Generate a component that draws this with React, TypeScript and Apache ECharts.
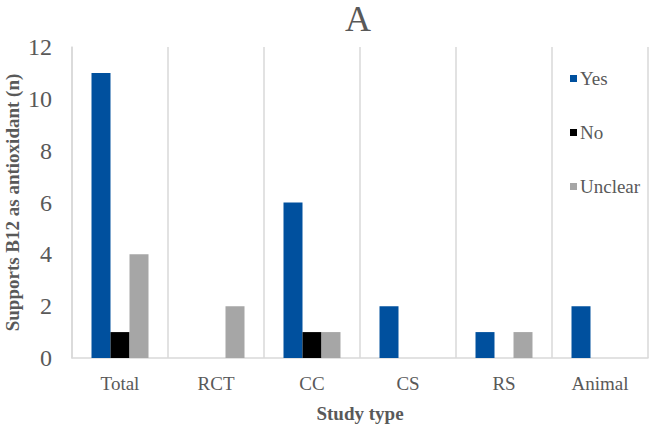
import React, { useEffect, useRef } from "react";
import * as echarts from "echarts";

const categories = ["Total", "RCT", "CC", "CS", "RS", "Animal"];
const yesValues = [11, 0, 6, 2, 1, 2];
const noValues = [1, 0, 1, 0, 0, 0];
const unclearValues = [4, 2, 1, 0, 1, 0];
const yTicks = { min: 0, max: 12, interval: 2 };

const FONT = "Liberation Serif";
const TEXT = "#595959";
const LINE = "#d9d9d9";

export default function App() {
  const ref = useRef<HTMLDivElement>(null);
  useEffect(() => {
    document.body.style.margin = "0";
    const chart = echarts.init(ref.current!, null, { renderer: "svg" });
    const mk = (name: string, data: number[], color: string) => ({
      name,
      type: "bar",
      data: data.map((v) => (v === 0 ? null : v)),
      barWidth: 19,
      barGap: "0%",
      itemStyle: { color },
    });
    chart.setOption({
      animation: false,
      textStyle: { fontFamily: FONT },
      title: {
        text: "A",
        left: 358,
        top: 0,
        padding: 0,
        textAlign: "center",
        textStyle: { fontFamily: FONT, fontSize: 36, lineHeight: 37, fontWeight: "normal", color: TEXT },
      },
      legend: {
        orient: "vertical",
        left: 565,
        top: 64,
        itemWidth: 7,
        itemHeight: 7,
        itemGap: 35,
        icon: "rect",
        textStyle: { fontFamily: FONT, fontSize: 19, color: TEXT, padding: [0, 0, 0, -2] },
        data: ["Yes", "No", "Unclear"],
      },
      grid: { left: 72, right: 4, top: 47, bottom: 69, containLabel: false, outerBoundsMode: "none" },
      xAxis: {
        type: "category",
        data: categories,
        name: "Study type",
        nameLocation: "middle",
        nameGap: 46,
        nameTextStyle: { fontFamily: FONT, fontSize: 19, fontWeight: "bold", color: TEXT },
        axisLine: { show: true, lineStyle: { color: LINE, width: 1.5 } },
        axisTick: { show: false },
        axisLabel: { fontFamily: FONT, fontSize: 19, color: TEXT, margin: 16 },
        splitLine: { show: true, lineStyle: { color: LINE, width: 1.5 } },
      },
      yAxis: {
        type: "value",
        min: yTicks.min,
        max: yTicks.max,
        interval: yTicks.interval,
        name: "Supports B12 as antioxidant (n)",
        nameLocation: "middle",
        nameGap: 50,
        nameMoveOverlap: false,
        nameTextStyle: { fontFamily: FONT, fontSize: 19, fontWeight: "bold", color: TEXT },
        axisLine: { show: true, lineStyle: { color: LINE, width: 1.5 } },
        axisTick: { show: false },
        axisLabel: { fontFamily: FONT, fontSize: 24, color: TEXT, margin: 20 },
        splitLine: { show: false },
      },
      series: [
        mk("Yes", yesValues, "#00509e"),
        mk("No", noValues, "#000000"),
        mk("Unclear", unclearValues, "#a6a6a6"),
      ],
    });
    return () => chart.dispose();
  }, []);
  return <div ref={ref} style={{ width: 652, height: 427 }} />;
}
